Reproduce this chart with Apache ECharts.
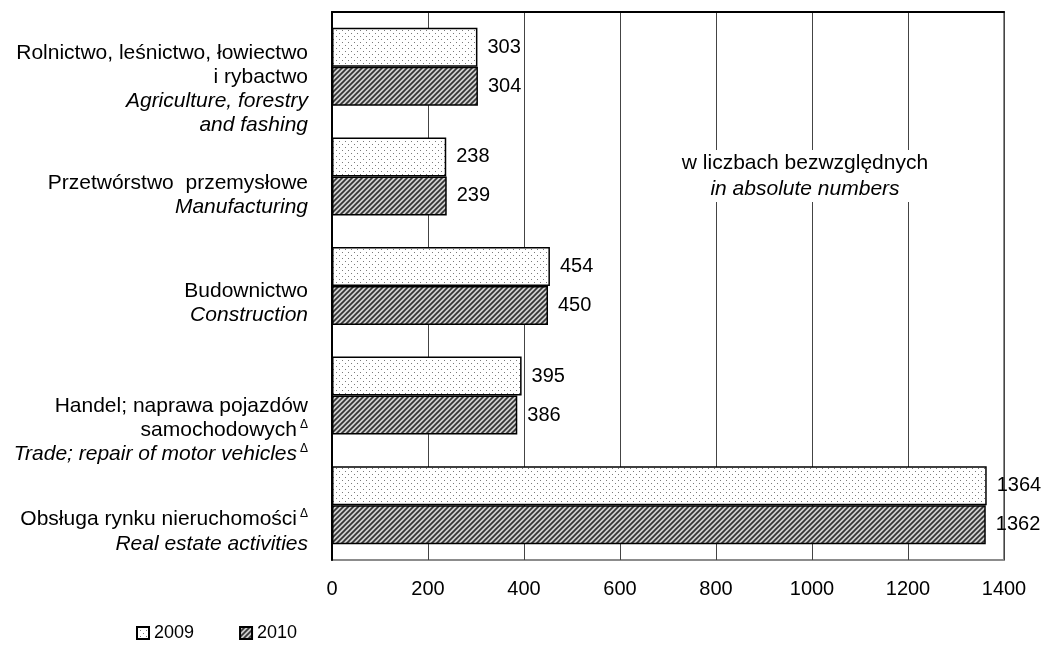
<!DOCTYPE html>
<html>
<head>
<meta charset="utf-8">
<script src="https://cdn.jsdelivr.net/npm/echarts@6/dist/echarts.min.js"></script>
<style>
html,body{margin:0;padding:0;background:#fff;}
#c{width:1046px;height:648px;}
</style>
</head>
<body>
<div id="c"></div>
<script>
// ---- data ----
var categoriesPL = [
  'Rolnictwo, leśnictwo, łowiectwo\ni rybactwo',
  'Przetwórstwo  przemysłowe',
  'Budownictwo',
  'Handel; naprawa pojazdów\nsamochodowych',
  'Obsługa rynku nieruchomości'
];
var categoriesEN = [
  'Agriculture, forestry\nand fashing',
  'Manufacturing',
  'Construction',
  'Trade; repair of motor vehicles',
  'Real estate activities'
];
var plSup = [false, false, false, true, true];
var enSup = [false, false, false, true, false];
var values2009 = [303, 238, 454, 395, 1364];
var values2010 = [304, 239, 450, 386, 1362];
var seriesNames = ['2009', '2010'];
var xTicks = [0, 200, 400, 600, 800, 1000, 1200, 1400];
var noteLines = ['w liczbach bezwzględnych', 'in absolute numbers'];

// label vertical offsets (style only)
var labelPadTop = [45, 37, 35, 70, 53];

function makeDots() {
  var c = document.createElement('canvas');
  c.width = 6; c.height = 6;
  var g = c.getContext('2d');
  g.fillStyle = '#ffffff'; g.fillRect(0, 0, 6, 6);
  g.fillStyle = '#7a7a7a';
  g.fillRect(0, 0, 1, 1);
  g.fillRect(3, 3, 1, 1);
  return c;
}
function makeHatch() {
  var s = 5;
  var c = document.createElement('canvas');
  c.width = s; c.height = s;
  var g = c.getContext('2d');
  g.fillStyle = '#cfcfcf'; g.fillRect(0, 0, s, s);
  g.strokeStyle = '#333333'; g.lineWidth = 1.7;
  g.beginPath();
  g.moveTo(-1, s + 1); g.lineTo(s + 1, -1);
  g.moveTo(-1, 1); g.lineTo(1, -1);
  g.moveTo(s - 1, s + 1); g.lineTo(s + 1, s - 1);
  g.stroke();
  return c;
}
var dotFill = {image: makeDots(), repeat: 'repeat'};
var hatchFill = {image: makeHatch(), repeat: 'repeat'};

var FONT = 'Liberation Sans, Arial, sans-serif';
var FS = 21;

function buildLabel(i) {
  var pl = categoriesPL[i].split('\n');
  var en = categoriesEN[i].split('\n');
  var out = [];
  pl.forEach(function (l, k) {
    var s = '{pl|' + l + '}';
    if (k === pl.length - 1 && plSup[i]) s += '{sup|Δ}';
    out.push(s);
  });
  en.forEach(function (l, k) {
    var s = '{en|' + l + '}';
    if (k === en.length - 1 && enSup[i]) s += '{sup|Δ}';
    out.push(s);
  });
  return out.join('\n');
}

var yData = categoriesPL.map(function (c, i) {
  return {value: buildLabel(i), textStyle: {padding: [labelPadTop[i], 0, 0, 0]}};
});

var xMin = xTicks[0], xMax = xTicks[xTicks.length - 1];

var chart = echarts.init(document.getElementById('c'), null, {renderer: 'canvas'});
chart.setOption({
  animation: false,
  backgroundColor: '#fff',
  textStyle: {fontFamily: FONT},
  grid: {left: 332, right: 42, top: 12, bottom: 88, show: true, borderColor: '#8c8c8c', borderWidth: 2},
  xAxis: [{
    type: 'value', min: xMin, max: xMax, interval: 200,
    axisLine: {show: false}, axisTick: {show: false},
    splitLine: {show: true, lineStyle: {color: '#444', width: 1}},
    axisLabel: {fontSize: 20, color: '#000', margin: 19, fontFamily: FONT,
      formatter: function (v) { return String(v); }}
  }, {
    type: 'value', position: 'top', min: xMin, max: xMax, interval: 200,
    axisLine: {show: true, lineStyle: {color: '#000', width: 2}},
    axisTick: {show: false}, axisLabel: {show: false}, splitLine: {show: false}
  }],
  yAxis: {
    type: 'category', inverse: true, data: yData,
    axisLine: {show: true, lineStyle: {color: '#000', width: 2}},
    axisTick: {show: false},
    axisLabel: {
      margin: 24, align: 'right', color: '#000', fontFamily: FONT,
      rich: {
        pl: {fontSize: FS, lineHeight: 24, color: '#000', fontFamily: FONT},
        en: {fontSize: FS, lineHeight: 24, color: '#000', fontStyle: 'italic', fontFamily: FONT},
        sup: {fontSize: 12, lineHeight: 24, color: '#000', verticalAlign: 'top', padding: [0, 0, 12, 3], fontFamily: FONT}
      }
    }
  },
  legend: {
    left: 136, top: 624, padding: 0, itemWidth: 12, itemHeight: 12, itemGap: 45,
    icon: 'rect',
    textStyle: {fontSize: 18, color: '#000', fontFamily: FONT},
    data: seriesNames
  },
  graphic: [{
    type: 'text', x: 805, y: 150, z: 5,
    style: {
      text: '{a|' + noteLines[0] + '}\n{b|' + noteLines[1] + '}',
      textAlign: 'center', textVerticalAlign: 'top', fill: '#000',
      backgroundColor: '#fff', padding: [0, 8, 0, 8],
      rich: {
        a: {fontSize: FS, lineHeight: 26, fontFamily: FONT, align: 'center'},
        b: {fontSize: FS, lineHeight: 26, fontFamily: FONT, fontStyle: 'italic', align: 'center'}
      }
    }
  }],
  series: [
    {
      name: seriesNames[0], type: 'bar', data: values2009, barWidth: 39, barGap: '0%', xAxisIndex: 0,
      itemStyle: {color: dotFill, borderColor: '#000', borderWidth: 1.5},
      label: {show: true, position: 'right', distance: 10, fontSize: 20, color: '#000', fontFamily: FONT}
    },
    {
      name: seriesNames[1], type: 'bar', data: values2010, barWidth: 39, barGap: '0%', xAxisIndex: 0,
      itemStyle: {color: hatchFill, borderColor: '#000', borderWidth: 1.5},
      label: {show: true, position: 'right', distance: 10, fontSize: 20, color: '#000', fontFamily: FONT}
    }
  ]
});
</script>
</body>
</html>
